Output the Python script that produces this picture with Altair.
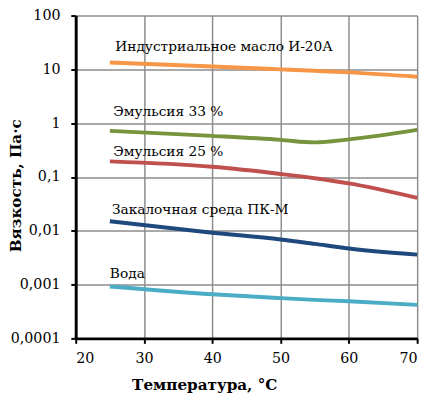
import altair as alt
import pandas as pd

temps = [25, 40, 50, 55, 60, 70]
oil = [13.4, 11.3, 10.0, 9.4, 8.8, 7.3]
emul33 = [0.72, 0.58, 0.49, 0.44, 0.50, 0.75]
emul25 = [0.195, 0.155, 0.114, 0.095, 0.076, 0.041]
pkm = [0.015, 0.0092, 0.0069, 0.0057, 0.0047, 0.0036]
water = [0.00092, 0.00066, 0.00056, 0.00052, 0.00049, 0.00042]

series_names = ["Индустриальное масло И-20А", "Эмульсия 33 %", "Эмульсия 25 %",
                "Закалочная среда ПК-М", "Вода"]
series_values = [oil, emul33, emul25, pkm, water]
colors = ["#F79646", "#77933C", "#C0504D", "#1F497D", "#4BACC6"]

label_x = [25.8, 25.5, 25.5, 25.3, 25.0]
label_y = [26, 1.58, 0.285, 0.024, 0.0016]

x_ticks = [20, 30, 40, 50, 60, 70]
y_ticks = [0.0001, 0.001, 0.01, 0.1, 1, 10, 100]

rows = []
for name, vals in zip(series_names, series_values):
    for t, v in zip(temps, vals):
        rows.append({"s": name, "t": t, "v": v})
df = pd.DataFrame(rows)
lab = pd.DataFrame({"s": series_names, "t": label_x, "v": label_y})

SERIF = "DejaVu Serif"

xscale = alt.Scale(domain=[20, 70], nice=False, zero=False)
yscale = alt.Scale(type="log", domain=[0.0001, 100], nice=False)

x_axis = alt.Axis(values=x_ticks, title="Температура, °C",
                  labelPadding=9, titleX=131, titleY=52, titleBaseline="alphabetic",
                  titleAlign="center",
                  gridOpacity={"condition": {"test": "datum.value == 20", "value": 0}, "value": 1})
y_axis = alt.Axis(values=y_ticks, title="Вязкость, Па·с",
                  labelExpr="replace(format(datum.value, '~g'), '.', ',')",
                  labelPadding=11, titleX=-53, titleY=173, titleAlign="center",
                  titleBaseline="bottom",
                  gridOpacity={"condition": {"test": "datum.value < 0.0002", "value": 0}, "value": 1})

lines = alt.Chart(df).mark_line(strokeWidth=4, interpolate="monotone").encode(
    x=alt.X("t:Q", scale=xscale, axis=x_axis),
    y=alt.Y("v:Q", scale=yscale, axis=y_axis),
    color=alt.Color("s:N", scale=alt.Scale(domain=series_names, range=colors), legend=None),
)

texts = alt.Chart(lab).mark_text(align="left", baseline="middle", font=SERIF,
                                 fontSize=14, color="black").encode(
    x=alt.X("t:Q", scale=xscale, axis=x_axis),
    y=alt.Y("v:Q", scale=yscale, axis=y_axis),
    text="s:N",
)

chart = alt.layer(lines, texts).properties(
    width=348, height=329,
    autosize=alt.AutoSizeParams(type="none"),
    padding={"left": 69, "top": 4, "right": 9, "bottom": 56},
).configure_view(stroke=None).configure_axis(
    grid=True, gridColor="#8c8c8c", gridWidth=1.5,
    domainColor="#000000", domainWidth=3, tickColor="#000000", tickWidth=2, tickSize=5,
    labelFont=SERIF, labelFontSize=14.5, labelColor="#000000",
    titleFont=SERIF, titleFontSize=15.5, titleFontWeight="bold", titleColor="#000000",
)

chart.save("out.html", embed_options={"renderer": "svg", "actions": False})
